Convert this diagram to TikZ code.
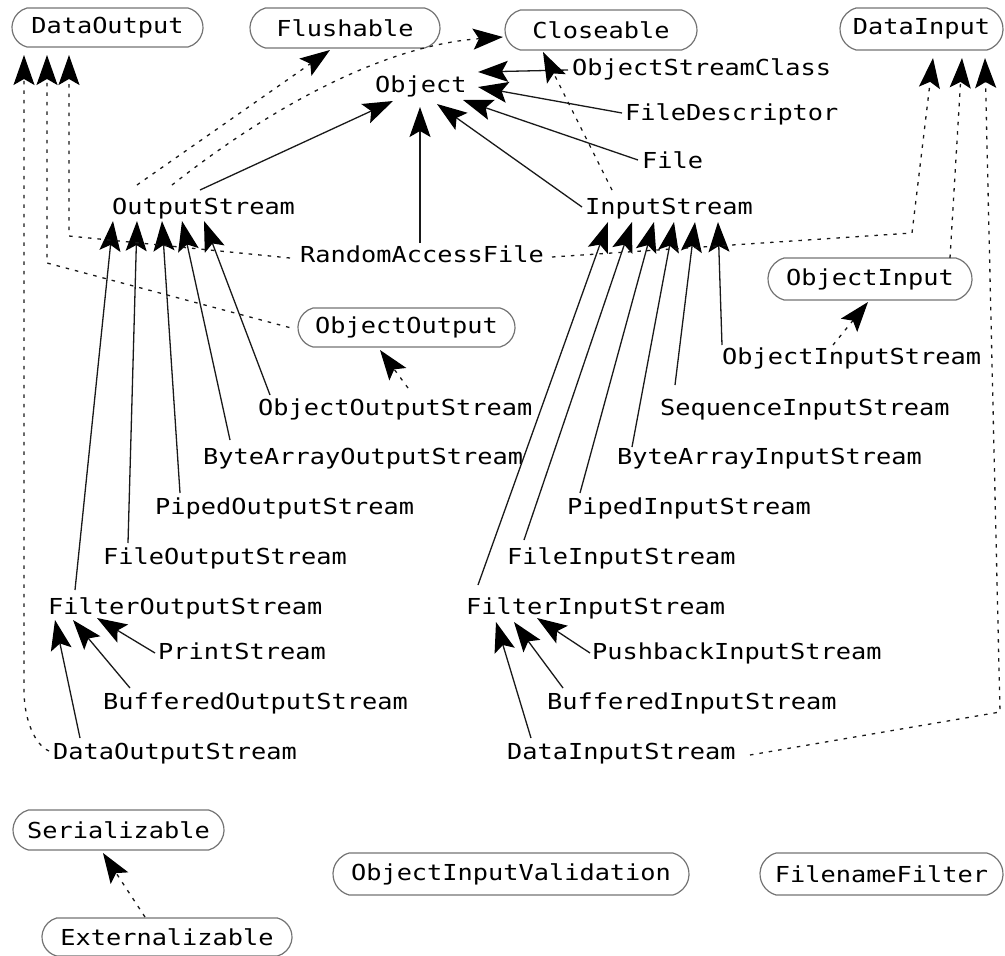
\documentclass[tikz,border=0pt]{standalone}
\usepackage{fontspec}
\usetikzlibrary{arrows.meta,shapes.misc}
\newfontfamily\clsfont{DejaVu Sans Mono}[FakeStretch=1.15]
\begin{document}
\begin{tikzpicture}[x=1pt,y=-1pt,
  lbl/.style={font=\clsfont\fontsize{22}{26}\selectfont, text=black},
  cls/.style={lbl, inner sep=0pt, anchor=base west},
  iface/.style={lbl, rounded rectangle, rounded rectangle arc length=150,
    draw=black!55, line width=1.2pt, inner sep=0pt, minimum height=40pt},
  ext/.style={draw=black!90, line width=1.3pt,
    -{Stealth[length=30pt,width=21pt,inset=6pt,black]}},
  impl/.style={ext, dash pattern=on 3.5pt off 6pt}]
\useasboundingbox (0,0) rectangle (1005,956);

% interfaces
\node[iface, minimum width=191pt, minimum height=39pt] (dout)  at (107.5,27.5) {DataOutput};
\node[iface, minimum width=190pt] (flush) at (345,28) {Flushable};
\node[iface, minimum width=192pt] (close) at (601,30) {Closeable};
\node[iface, minimum width=163pt, minimum height=42pt] (din) at (921.5,29) {DataInput};
\node[iface, minimum width=217pt, minimum height=39pt] (oout) at (406.5,327.5) {ObjectOutput};
\node[iface, minimum width=204pt, minimum height=42pt] (oin) at (870,279) {ObjectInput};
\node[iface, minimum width=211pt] (ser) at (118.5,830) {Serializable};
\node[iface, minimum width=356pt, minimum height=42pt] (oiv) at (511,874) {ObjectInputValidation};
\node[iface, minimum width=243pt, minimum height=42pt] (fnf) at (881.5,874) {FilenameFilter};
\node[iface, minimum width=250pt, minimum height=38pt] (extz) at (167,937) {Externalizable};

% classes
\node[cls] (obj)  at (375,92)  {Object};
\node[cls] (osc)  at (572,75)  {ObjectStreamClass};
\node[cls] (fd)   at (625,120) {FileDescriptor};
\node[cls] (file) at (642,168) {File};
\node[cls] (os)   at (112,214) {OutputStream};
\node[cls] (is)   at (585,214) {InputStream};
\node[cls] (raf)  at (300,262) {RandomAccessFile};
\node[cls] (oos)  at (258,415) {ObjectOutputStream};
\node[cls] (baos) at (203,464) {ByteArrayOutputStream};
\node[cls] (pos)  at (155,514) {PipedOutputStream};
\node[cls] (fos)  at (103,564) {FileOutputStream};
\node[cls] (filos) at (48,614) {FilterOutputStream};
\node[cls] (ps)   at (158,659) {PrintStream};
\node[cls] (bos)  at (103,709) {BufferedOutputStream};
\node[cls] (dos)  at (53,759)  {DataOutputStream};
\node[cls] (ois)  at (722,364) {ObjectInputStream};
\node[cls] (sis)  at (660,415) {SequenceInputStream};
\node[cls] (bais) at (617,464) {ByteArrayInputStream};
\node[cls] (pis)  at (567,514) {PipedInputStream};
\node[cls] (fis)  at (507,564) {FileInputStream};
\node[cls] (filis) at (466,614) {FilterInputStream};
\node[cls] (pbis) at (592,659) {PushbackInputStream};
\node[cls] (bis)  at (547,709) {BufferedInputStream};
\node[cls] (dis)  at (507,759) {DataInputStream};

% subclasses of Object
\draw[ext] ([shift={(-4,-5)}]osc.base west)  -- ([shift={(103,-20)}]obj.base west);
\draw[ext] ([shift={(-3,-7)}]fd.base west)   -- ([shift={(103,-5)}]obj.base west);
\draw[ext] ([shift={(-4,-8)}]file.base west) -- ([shift={(88,8)}]obj.base west);
\draw[ext] ([shift={(-3,-7)}]is.base west)   -- ([shift={(62,12)}]obj.base west);
\draw[ext] ([shift={(120,-19)}]raf.base west) -- ([shift={(45,15)}]obj.base west);
\draw[ext] ([shift={(88,-24)}]os.base west)  -- ([shift={(18,9)}]obj.base west);

% subclasses of OutputStream
\draw[ext] ([shift={(27,-24)}]filos.base west) -- ([shift={(1,7)}]os.base west);
\draw[ext] ([shift={(25,-21)}]fos.base west)   -- ([shift={(25,7)}]os.base west);
\draw[ext] ([shift={(25,-21)}]pos.base west)   -- ([shift={(50,7)}]os.base west);
\draw[ext] ([shift={(27,-24)}]baos.base west)  -- ([shift={(70,7)}]os.base west);
\draw[ext] ([shift={(12,-20)}]oos.base west)   -- ([shift={(92,7)}]os.base west);

% subclasses of InputStream
\draw[ext] ([shift={(12,-29)}]filis.base west) -- ([shift={(23,8)}]is.base west);
\draw[ext] ([shift={(17,-24)}]fis.base west)   -- ([shift={(47,8)}]is.base west);
\draw[ext] ([shift={(13,-21)}]pis.base west)   -- ([shift={(69,8)}]is.base west);
\draw[ext] ([shift={(15,-17)}]bais.base west)  -- ([shift={(89,8)}]is.base west);
\draw[ext] ([shift={(15,-30)}]sis.base west)   -- ([shift={(110,8)}]is.base west);
\draw[ext] ([shift={(0,-19)}]ois.base west)    -- ([shift={(133,8)}]is.base west);

% filter subclasses
\draw[ext] ([shift={(-3,-6)}]ps.base west)  -- ([shift={(49,4)}]filos.base west);
\draw[ext] ([shift={(27,-21)}]bos.base west) -- ([shift={(25,6)}]filos.base west);
\draw[ext] ([shift={(27,-21)}]dos.base west) -- ([shift={(7,6)}]filos.base west);
\draw[ext] ([shift={(-2,-6)}]pbis.base west) -- ([shift={(71,4)}]filis.base west);
\draw[ext] ([shift={(16,-21)}]bis.base west) -- ([shift={(48,8)}]filis.base west);
\draw[ext] ([shift={(24,-21)}]dis.base west) -- ([shift={(30,8)}]filis.base west);

% interface realisations
\draw[impl] ([shift={(-4,-8)}]dos.base west)
  .. controls ([shift={(-18,-14)}]dos.base west) and ([shift={(-29,-39)}]dos.base west)
  .. ([shift={(-29,-69)}]dos.base west) -- ([shift={(-83.5,27.5)}]dout.center);
\draw[impl] ([xshift=-8pt]oout.west) -- ([shift={(-60.5,235.5)}]dout.center)
  -- ([shift={(-60.5,27.5)}]dout.center);
\draw[impl] ([shift={(-10,-4)}]raf.base west) -- ([shift={(-38.5,208.5)}]dout.center)
  -- ([shift={(-38.5,27.5)}]dout.center);
\draw[impl] ([shift={(252,-5)}]raf.base west) -- ([shift={(-9.5,204)}]din.center)
  -- ([shift={(11.5,29)}]din.center);
\draw[impl] ([shift={(80,-21)}]oin.center) -- ([shift={(40.5,29)}]din.center);
\draw[impl] ([shift={(243,-4)}]dis.base west) -- ([shift={(78.5,683)}]din.center)
  -- ([shift={(63.5,29)}]din.center);
\draw[impl] ([shift={(25,-29)}]os.base west) -- ([shift={(-15,22)}]flush.center);
\draw[impl] ([shift={(60,-29)}]os.base west)
  .. controls ([shift={(168,-114)}]os.base west) and ([shift={(278,-169)}]os.base west)
  .. ([shift={(-98,7)}]close.center);
\draw[impl] ([shift={(27,-24)}]is.base west) -- ([shift={(-58,22)}]close.center);
\draw[impl] ([shift={(150,-27)}]oos.base west) -- ([shift={(-26.5,22.5)}]oout.center);
\draw[impl] ([shift={(111,-19)}]ois.base west) -- ([shift={(-2,23)}]oin.center);
\draw[impl] ([shift={(-22,-20)}]extz.center) -- ([shift={(-15.5,23)}]ser.center);
\end{tikzpicture}
\end{document}
